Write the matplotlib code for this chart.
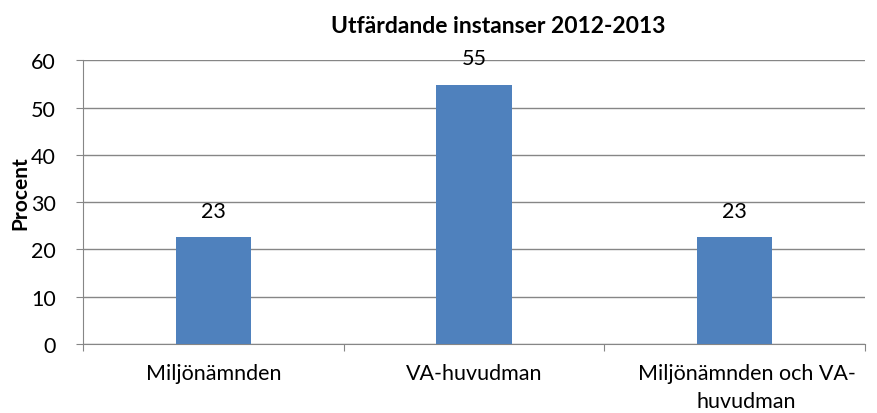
import matplotlib
matplotlib.use('Agg')
import matplotlib.pyplot as plt
import matplotlib.transforms as mtrans

# Data
kategorier = ['Miljönämnden', 'VA-huvudman', 'Miljönämnden och VA-\nhuvudman']
procent = [22.6, 54.8, 22.6]
etiketter = ['23', '55', '23']
yticks = [0, 10, 20, 30, 40, 50, 60]

plt.rcParams['font.family'] = ['Lato', 'DejaVu Sans']

fig = plt.figure(figsize=(8.78, 4.14), dpi=100)
ax = fig.add_axes([0.0951, 0.1667, 0.8899, 0.6853])

x = range(len(kategorier))
ax.bar(x, procent, width=0.29, color='#4F81BD', zorder=3)
for xi, v, lab in zip(x, procent, etiketter):
    ax.annotate(lab, (xi, v), xytext=(0, 19), textcoords='offset points',
                ha='center', va='center', fontsize=15.5)

ax.set_xlim(-0.5, 2.5)
ax.set_ylim(0, 60)
ax.set_yticks(yticks)
ax.yaxis.grid(True, color='#868686', linewidth=1, zorder=0)
ax.set_xticks([-0.5, 0.5, 1.5, 2.5])
ax.set_xticklabels([])
ax.set_xticks(list(x), minor=True)
ax.set_xticklabels(kategorier, minor=True, fontsize=15.5, linespacing=1.45)
ax.tick_params(axis='x', which='minor', length=0, pad=14)
ax.tick_params(axis='x', which='major', length=5, color='#868686', direction='out')
ax.tick_params(axis='y', length=5, color='#868686', labelsize=15.5, pad=15)
for s in ['top', 'right']:
    ax.spines[s].set_visible(False)
for s in ['left', 'bottom']:
    ax.spines[s].set_color('#868686')

# the wrapped last label sits a bit right of its category in the original
lbl = ax.get_xticklabels(minor=True)[2]
lbl.set_transform(lbl.get_transform() + mtrans.ScaledTranslation(12 / 100, 0, fig.dpi_scale_trans))

fig.text(20 / 878, 1 - 193.5 / 414, 'Procent', rotation=90, ha='center', va='center',
         fontsize=15, fontweight='bold')
fig.text(0.568, 0.935, 'Utfärdande instanser 2012-2013', ha='center', va='center',
         fontsize=16.5, fontweight='bold')

plt.savefig('out.png', dpi=100)
